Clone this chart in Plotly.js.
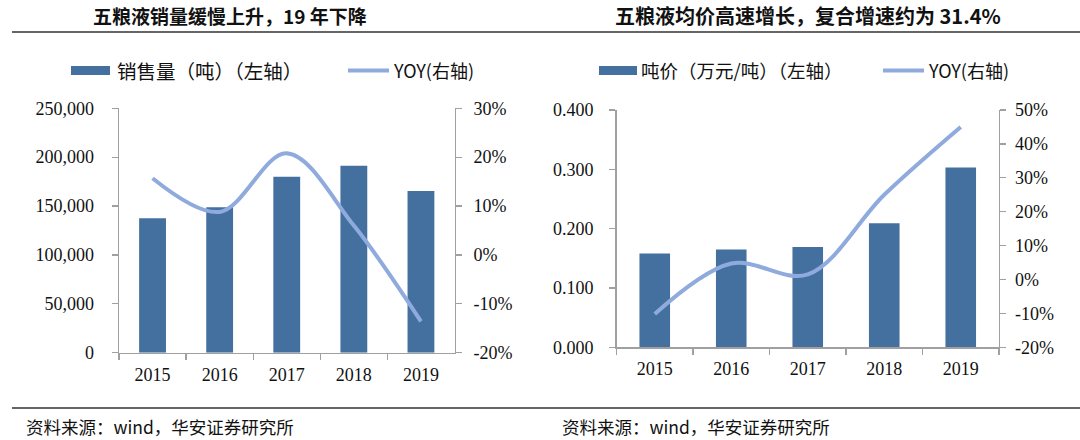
<!DOCTYPE html>
<html>
<head>
<meta charset="utf-8">
<script src="https://cdn.plot.ly/plotly-3.0.1.min.js"></script>
<style>html,body{margin:0;padding:0;background:#fff;}#chart{width:1080px;height:440px;}</style>
</head>
<body>
<div id="chart"></div>
<script>
// ---- data ----
const years = ['2015', '2016', '2017', '2018', '2019'];
const salesTon = [137500, 148700, 180000, 191300, 165400];
const salesYoy = [0.157, 0.088, 0.208, 0.060, -0.136];
const priceWanPerTon = [0.158, 0.165, 0.169, 0.209, 0.303];
const priceYoy = [-0.102, 0.047, 0.015, 0.250, 0.450];

const leftTickVals = [0, 50000, 100000, 150000, 200000, 250000];
const leftTickText = ['0', '50,000', '100,000', '150,000', '200,000', '250,000'];
const leftPctVals = [-0.2, -0.1, 0, 0.1, 0.2, 0.3];
const leftPctText = ['-20%', '-10%', '0%', '10%', '20%', '30%'];
const rightTickVals = [0, 0.1, 0.2, 0.3, 0.4];
const rightTickText = ['0.000', '0.100', '0.200', '0.300', '0.400'];
const rightPctVals = [-0.2, -0.1, 0, 0.1, 0.2, 0.3, 0.4, 0.5];
const rightPctText = ['-20%', '-10%', '0%', '10%', '20%', '30%', '40%', '50%'];

const titleLeft = '五粮液销量缓慢上升，19 年下降';
const titleRight = '五粮液均价高速增长，复合增速约为 31.4%';
const legendLeftBar = '销售量（吨）（左轴）';
const legendRightBar = '吨价（万元/吨）（左轴）';
const legendLine = 'YOY(右轴)';
const sourceText = '资料来源：wind，华安证券研究所';

// ---- style ----
const BAR = '#44709F';
const LINE = '#8FAADC';
const AXC = '#A0A0A0';
const tickFont = {family: 'Liberation Serif, Times New Roman, serif', size: 18, color: '#111'};
const cjk = 'Noto Sans CJK SC, sans-serif';

const traces = [
  {type: 'bar', x: years, y: salesTon, xaxis: 'x', yaxis: 'y', marker: {color: BAR}, width: 0.4, showlegend: false, hoverinfo: 'skip'},
  {type: 'scatter', mode: 'lines', x: years, y: salesYoy, xaxis: 'x', yaxis: 'y2', line: {color: LINE, width: 4, shape: 'spline', smoothing: 1}, showlegend: false, hoverinfo: 'skip'},
  {type: 'bar', x: years, y: priceWanPerTon, xaxis: 'x2', yaxis: 'y3', marker: {color: BAR}, width: 0.4, showlegend: false, hoverinfo: 'skip'},
  {type: 'scatter', mode: 'lines', x: years, y: priceYoy, xaxis: 'x2', yaxis: 'y4', line: {color: LINE, width: 4, shape: 'spline', smoothing: 1}, showlegend: false, hoverinfo: 'skip'}
];

const xBase = {type: 'category', showline: true, linecolor: AXC, linewidth: 1.3, ticks: 'outside', tickson: 'boundaries', ticklen: 6, tickcolor: AXC, tickwidth: 1.3, tickfont: tickFont, showgrid: false, zeroline: false, fixedrange: true, ticklabelstandoff: 5};
const yBase = {showline: true, linecolor: AXC, linewidth: 1.3, ticks: 'outside', ticklen: 6, tickcolor: AXC, tickwidth: 1.3, tickfont: tickFont, showgrid: false, zeroline: false, fixedrange: true, tickmode: 'array'};

const layout = {
  width: 1080, height: 440,
  margin: {l: 0, r: 0, t: 0, b: 0},
  paper_bgcolor: '#fff', plot_bgcolor: 'rgba(0,0,0,0)',
  bargap: 0.6,
  xaxis: Object.assign({}, xBase, {domain: [119/1080, 454.5/1080], anchor: 'y'}),
  yaxis: Object.assign({}, yBase, {domain: [1-352.7/440, 1-108.3/440], range: [0, 250000], tickvals: leftTickVals, ticktext: leftTickText, anchor: 'x', ticklabelstandoff: 14}),
  yaxis2: Object.assign({}, yBase, {domain: [1-352.7/440, 1-108.3/440], range: [-0.2, 0.3], tickvals: leftPctVals, ticktext: leftPctText, overlaying: 'y', side: 'right', anchor: 'x', ticklabelstandoff: 8}),
  xaxis2: Object.assign({}, xBase, {domain: [616.5/1080, 999/1080], anchor: 'y3'}),
  yaxis3: Object.assign({}, yBase, {domain: [1-347.3/440, 1-110/440], range: [0, 0.4], tickvals: rightTickVals, ticktext: rightTickText, anchor: 'x2', ticklabelstandoff: 12}),
  yaxis4: Object.assign({}, yBase, {domain: [1-347.3/440, 1-110/440], range: [-0.2, 0.5], tickvals: rightPctVals, ticktext: rightPctText, overlaying: 'y3', side: 'right', anchor: 'x2', ticklabelstandoff: 5}),
  shapes: [
    {type: 'line', xref: 'paper', yref: 'paper', x0: 12/1080, x1: 1, y0: 1-32/440, y1: 1-32/440, line: {color: '#666', width: 2}},
    {type: 'line', xref: 'paper', yref: 'paper', x0: 12/1080, x1: 1, y0: 1-408/440, y1: 1-408/440, line: {color: '#666', width: 2}},
    // legend keys
    {type: 'rect', xref: 'paper', yref: 'paper', x0: 71/1080, x1: 110/1080, y0: 1-75/440, y1: 1-66/440, fillcolor: BAR, line: {width: 0}},
    {type: 'line', xref: 'paper', yref: 'paper', x0: 348/1080, x1: 389/1080, y0: 1-70.5/440, y1: 1-70.5/440, line: {color: LINE, width: 4}},
    {type: 'rect', xref: 'paper', yref: 'paper', x0: 599/1080, x1: 637/1080, y0: 1-75/440, y1: 1-66/440, fillcolor: BAR, line: {width: 0}},
    {type: 'line', xref: 'paper', yref: 'paper', x0: 883/1080, x1: 924/1080, y0: 1-70.5/440, y1: 1-70.5/440, line: {color: LINE, width: 4}}
  ],
  annotations: [
    {text: '<b>' + titleLeft + '</b>', xref: 'paper', yref: 'paper', x: 230/1080, y: 1-15.5/440, xanchor: 'center', yanchor: 'middle', showarrow: false, font: {family: cjk, size: 19, color: '#111'}},
    {text: '<b>' + titleRight + '</b>', xref: 'paper', yref: 'paper', x: 808/1080, y: 1-15.5/440, xanchor: 'center', yanchor: 'middle', showarrow: false, font: {family: cjk, size: 20, color: '#111'}},
    {text: legendLeftBar, xref: 'paper', yref: 'paper', x: 115/1080, y: 1-70.5/440, xanchor: 'left', yanchor: 'middle', showarrow: false, font: {family: cjk, size: 19.5, color: '#111'}},
    {text: legendLine, xref: 'paper', yref: 'paper', x: 391/1080, y: 1-70.5/440, xanchor: 'left', yanchor: 'middle', showarrow: false, font: {family: cjk, size: 18, color: '#111'}},
    {text: legendRightBar, xref: 'paper', yref: 'paper', x: 639/1080, y: 1-70.5/440, xanchor: 'left', yanchor: 'middle', showarrow: false, font: {family: cjk, size: 18.5, color: '#111'}},
    {text: legendLine, xref: 'paper', yref: 'paper', x: 926/1080, y: 1-70.5/440, xanchor: 'left', yanchor: 'middle', showarrow: false, font: {family: cjk, size: 18, color: '#111'}},
    {text: sourceText, xref: 'paper', yref: 'paper', x: 24/1080, y: 1-426/440, xanchor: 'left', yanchor: 'middle', showarrow: false, font: {family: cjk, size: 17.5, color: '#111'}},
    {text: sourceText, xref: 'paper', yref: 'paper', x: 560/1080, y: 1-426/440, xanchor: 'left', yanchor: 'middle', showarrow: false, font: {family: cjk, size: 17.5, color: '#111'}}
  ]
};

Plotly.newPlot('chart', traces, layout, {displayModeBar: false, staticPlot: true});
</script>
</body>
</html>
